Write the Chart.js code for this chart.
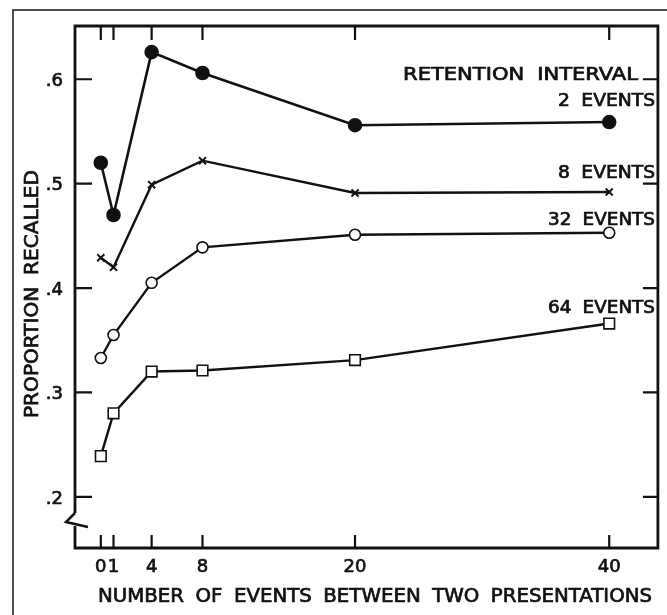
<!DOCTYPE html>
<html>
<head>
<meta charset="utf-8">
<script src="https://cdn.jsdelivr.net/npm/chart.js@4"></script>
<style>
  html, body { margin: 0; padding: 0; background: #fff; }
</style>
</head>
<body>
<canvas id="chart" width="667" height="615"></canvas>
<script>
// Data
const xValues = [0, 1, 4, 8, 20, 40];
const events2 = [0.52, 0.47, 0.626, 0.606, 0.556, 0.559];
const events8 = [0.429, 0.42, 0.499, 0.522, 0.491, 0.492];
const events32 = [0.333, 0.355, 0.405, 0.439, 0.451, 0.453];
const events64 = [0.239, 0.28, 0.32, 0.321, 0.331, 0.366];
const seriesLabels = ['2 EVENTS', '8 EVENTS', '32 EVENTS', '64 EVENTS'];
const xTicks = [0, 1, 4, 8, 20, 40];
const xTickLabels = ['0', '1', '4', '8', '20', '40'];
const yTicks = [0.2, 0.3, 0.4, 0.5, 0.6];
const yTickLabels = ['.2', '.3', '.4', '.5', '.6'];

const INK = '#111';
const FONT = '"DejaVu Sans"';

function pts(ys) { return xValues.map((x, i) => ({ x: x, y: ys[i] })); }

// draw text squeezed / stretched to a given width, a bit heavier like the print
function fitText(ctx, text, x, y, width, size, align) {
    ctx.font = size + 'px ' + FONT;
    ctx.wordSpacing = '5px';
    const w = ctx.measureText(text).width;
    ctx.save();
    ctx.translate(align === 'right' ? x - width : x, y);
    ctx.scale(width / w, 1);
    ctx.textAlign = 'left';
    ctx.textBaseline = 'alphabetic';
    ctx.lineWidth = 0.7;
    ctx.strokeStyle = INK;
    ctx.fillText(text, 0, 0);
    ctx.strokeText(text, 0, 0);
    ctx.restore();
}

function heavyText(ctx, text, x, y) {
    ctx.fillText(text, x, y);
    ctx.strokeText(text, x, y);
}

const frame = {
    id: 'frame',
    beforeDatasetsDraw(chart) {
        const ctx = chart.ctx, a = chart.chartArea;
        const xs = chart.scales.x, ys = chart.scales.y;
        ctx.save();
        ctx.strokeStyle = INK;
        // outer border of the figure
        ctx.lineWidth = 1.5;
        ctx.beginPath();
        ctx.moveTo(13, 615); ctx.lineTo(13, 10); ctx.lineTo(667, 10);
        ctx.stroke();
        // plot box
        ctx.lineWidth = 2.8;
        ctx.beginPath();
        ctx.moveTo(a.left, 513); ctx.lineTo(a.left, a.top);
        ctx.lineTo(a.right, a.top); ctx.lineTo(a.right, a.bottom);
        ctx.lineTo(a.left, a.bottom); ctx.lineTo(a.left, 526);
        ctx.stroke();
        // axis break
        ctx.lineWidth = 2.5;
        ctx.beginPath();
        ctx.moveTo(a.left, 513); ctx.lineTo(a.left - 9, 522); ctx.lineTo(a.left + 13, 527);
        ctx.stroke();
        // inward ticks
        ctx.lineWidth = 2.2;
        ctx.beginPath();
        yTicks.forEach(v => {
            const py = ys.getPixelForValue(v);
            ctx.moveTo(a.left, py); ctx.lineTo(a.left + 17, py);
            ctx.moveTo(a.right, py); ctx.lineTo(a.right - 15, py);
        });
        xTicks.forEach(v => {
            const px = xs.getPixelForValue(v);
            ctx.moveTo(px, a.top); ctx.lineTo(px, a.top + 14);
            ctx.moveTo(px, a.bottom); ctx.lineTo(px, a.bottom - 13);
        });
        ctx.stroke();
        // tick labels
        ctx.fillStyle = INK;
        ctx.lineWidth = 0.7;
        ctx.font = '18px ' + FONT;
        ctx.textBaseline = 'middle';
        ctx.textAlign = 'right';
        yTicks.forEach((v, i) => heavyText(ctx, yTickLabels[i], a.left - 12, ys.getPixelForValue(v) + 2));
        ctx.textAlign = 'center';
        xTicks.forEach((v, i) => heavyText(ctx, xTickLabels[i], xs.getPixelForValue(v), 567));
        ctx.restore();
    },
    afterDraw(chart) {
        const ctx = chart.ctx;
        ctx.save();
        ctx.fillStyle = INK;
        // axis titles
        fitText(ctx, 'NUMBER OF EVENTS BETWEEN TWO PRESENTATIONS', 98, 602, 554, 19, 'left');
        ctx.save();
        ctx.translate(38, 418);
        ctx.rotate(-Math.PI / 2);
        fitText(ctx, 'PROPORTION RECALLED', 0, 0, 248, 19, 'left');
        ctx.restore();
        // series labels
        fitText(ctx, 'RETENTION INTERVAL', 638, 80, 235, 17, 'right');
        const labelPos = [[106, 97], [178, 97], [225, 107], [313, 107]];
        seriesLabels.forEach((t, i) => fitText(ctx, t, 655, labelPos[i][0], labelPos[i][1], 17, 'right'));
        ctx.restore();
    }
};

new Chart(document.getElementById('chart'), {
    type: 'line',
    data: {
        datasets: [
            { label: seriesLabels[0], data: pts(events2), borderColor: INK, borderWidth: 2.6,
              pointStyle: 'circle', pointRadius: 6, pointBackgroundColor: INK, pointBorderColor: INK },
            { label: seriesLabels[1], data: pts(events8), borderColor: INK, borderWidth: 2.4,
              pointStyle: 'crossRot', pointRadius: 5, pointBorderWidth: 2, pointBorderColor: INK },
            { label: seriesLabels[2], data: pts(events32), borderColor: INK, borderWidth: 2.4,
              pointStyle: 'circle', pointRadius: 5.5, pointBackgroundColor: '#fff', pointBorderColor: INK, pointBorderWidth: 1.6 },
            { label: seriesLabels[3], data: pts(events64), borderColor: INK, borderWidth: 2.4,
              pointStyle: 'rect', pointRadius: 7.5, pointBackgroundColor: '#fff', pointBorderColor: INK, pointBorderWidth: 1.6 }
        ]
    },
    options: {
        responsive: false,
        animation: false,
        devicePixelRatio: 1,
        layout: { padding: { left: 75, top: 26, right: 5, bottom: 67 } },
        plugins: { legend: { display: false }, tooltip: { enabled: false } },
        elements: { line: { tension: 0 } },
        scales: {
            x: { type: 'linear', min: -2.03, max: 43.83, display: false },
            y: { min: 0.151, max: 0.651, display: false }
        }
    },
    plugins: [frame]
});
</script>
</body>
</html>
